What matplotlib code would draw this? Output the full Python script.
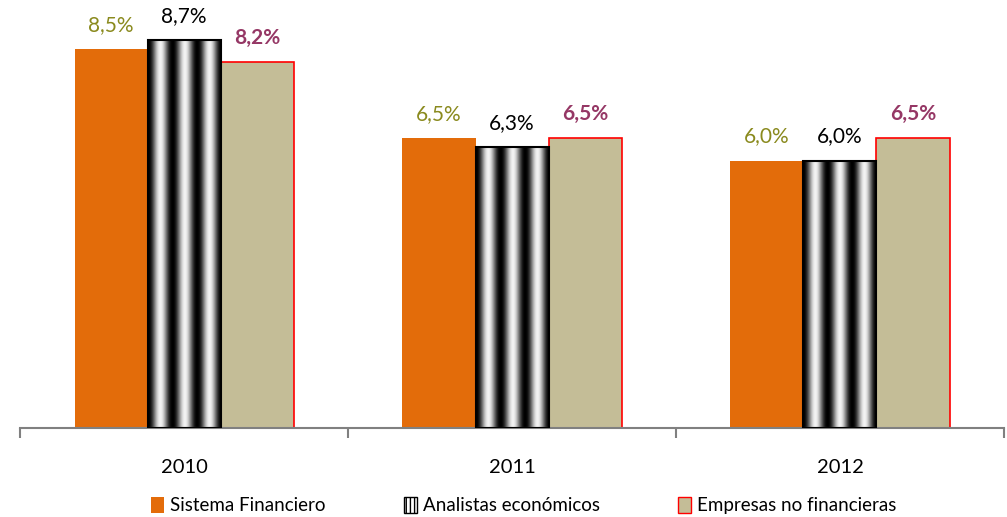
import numpy as np
import matplotlib.pyplot as plt
from matplotlib.patches import Patch

years = ["2010", "2011", "2012"]
series = ["Sistema Financiero", "Analistas económicos", "Empresas no financieras"]
sistema = [8.5, 6.5, 6.0]
analistas = [8.7, 6.3, 6.0]
empresas = [8.2, 6.5, 6.5]

plt.rcParams["font.family"] = ["Lato", "DejaVu Sans"]

orange = "#E36C0A"
beige = "#C4BD97"
olive = "#8A8A1E"
purple = "#953765"

fig = plt.figure(figsize=(10.07, 5.17), dpi=100)
ax = fig.add_axes([0.0199, 0.172, 0.9771, 0.828])

x = np.arange(len(years))
w = 0.2226

ax.bar(x - w, sistema, w, color=orange, edgecolor="none")
ax.bar(x + w, empresas, w, color=beige, edgecolor="#FF0000", linewidth=1.2)

# striped "cylinder" bars: gradient image clipped to each bar
t = np.linspace(0, 1, 300)
stripe = np.abs(np.sin(3 * np.pi * t)) ** 2.2
img = np.tile(stripe, (2, 1))
for xi, v in zip(x, analistas):
    ax.imshow(img, cmap="gray", vmin=0, vmax=1.05, aspect="auto",
              extent=(xi - w / 2, xi + w / 2, 0, v), interpolation="bilinear", zorder=2)
    ax.add_patch(plt.Rectangle((xi - w / 2, 0), w, v, fill=False,
                               edgecolor="black", linewidth=1.5, zorder=3))

off = 0.32
for xi, v in zip(x, sistema):
    ax.text(xi - w, v + off, f"{v:.1f}%".replace(".", ","), ha="center", va="bottom",
            color=olive, fontsize=15)
for xi, v in zip(x, analistas):
    ax.text(xi, v + off, f"{v:.1f}%".replace(".", ","), ha="center", va="bottom",
            color="black", fontsize=15)
for xi, v in zip(x, empresas):
    ax.text(xi + w, v + off, f"{v:.1f}%".replace(".", ","), ha="center", va="bottom",
            color=purple, fontsize=15, fontweight="bold")

ax.set_xlim(-0.5, 2.5)
ax.set_ylim(0, 9.6)
ax.set_yticks([])
ax.set_xticks([-0.5, 0.5, 1.5, 2.5])
ax.set_xticklabels([])
ax.set_xticks(x, minor=True)
ax.set_xticklabels(years, minor=True, fontsize=14.5)
ax.tick_params(axis="x", which="major", length=7, width=1.5, color="#808080")
ax.tick_params(axis="x", which="minor", length=0, pad=22)
for s in ["left", "right", "top"]:
    ax.spines[s].set_visible(False)
ax.spines["bottom"].set_color("#808080")
ax.spines["bottom"].set_linewidth(1.5)

handles = [
    Patch(facecolor=orange, edgecolor="none"),
    Patch(facecolor="white", edgecolor="black", hatch="||||"),
    Patch(facecolor=beige, edgecolor="#FF0000"),
]
fig.legend(handles, series, loc="center", bbox_to_anchor=(0.52, 0.022), ncol=3,
           frameon=False, fontsize=13.5, handlelength=0.7, handleheight=0.9,
           handletextpad=0.3, columnspacing=4.2)

fig.savefig("out.png", dpi=100)
